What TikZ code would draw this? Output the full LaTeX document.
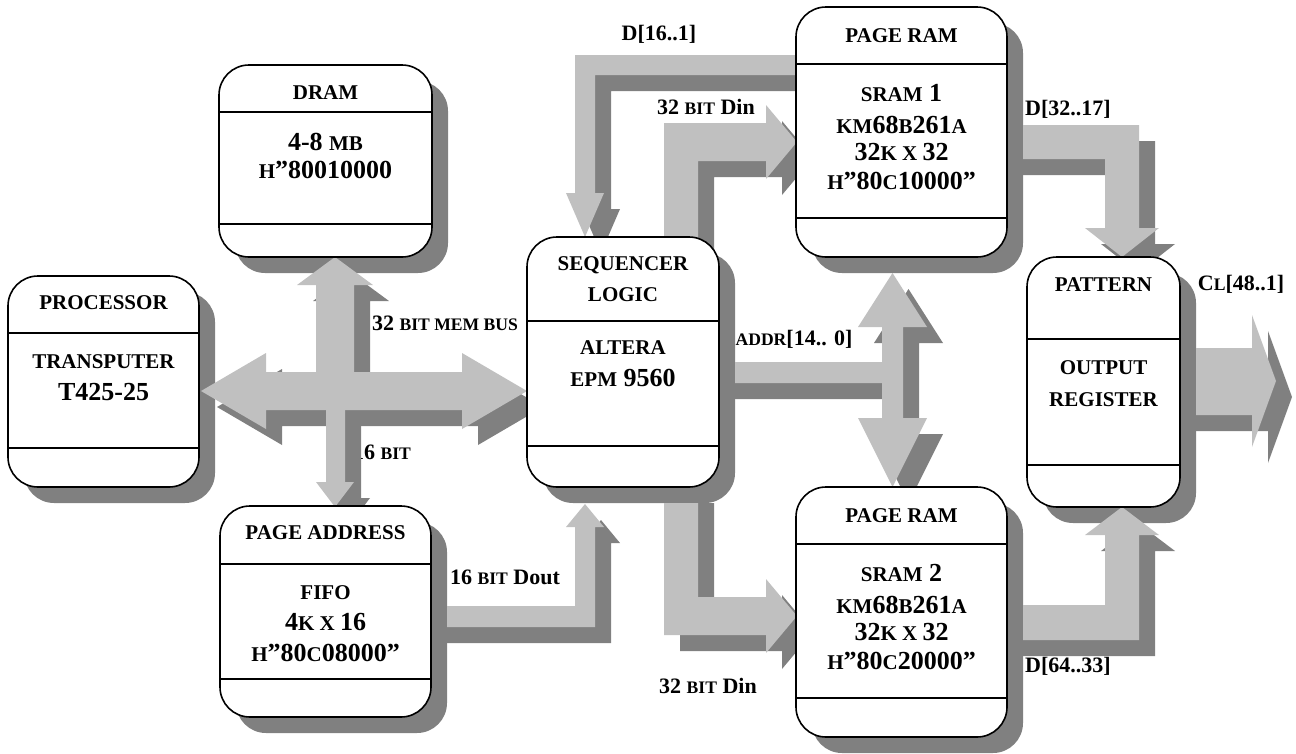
\documentclass[tikz,border=0pt]{standalone}
\usepackage{fontspec}
\setmainfont{Liberation Serif}
\usetikzlibrary{calc}
\pgfdeclarelayer{lab}\pgfdeclarelayer{bshl}\pgfdeclarelayer{arr}
\pgfsetlayers{lab,bshl,arr,main}
\definecolor{lt}{RGB}{192,192,192}
\definecolor{dk}{RGB}{128,128,128}
\newcommand\sk[1]{{\fontsize{21}{21}\selectfont #1}}
\newcommand\lk[1]{{\fontsize{17.6}{17.6}\selectfont #1}}
% block arrows
\newcommand\arrDa[1]{\fill[#1] (800,55) -- (575,55) -- (575,193) -- (566,193) -- (585,237) -- (604,193) -- (595,193) -- (595,75) -- (800,75) -- cycle;}
\newcommand\arrDinTop[1]{\fill[#1] (664,240) -- (664,123) -- (766,123) -- (766,105) -- (797,142) -- (766,179) -- (766,161) -- (698,161) -- (698,240) -- cycle;}
\newcommand\arrDinBot[2]{\fill[#1] (664,#2) -- (664,635) -- (766,635) -- (766,653) -- (797,616) -- (766,579) -- (766,597) -- (698,597) -- (698,#2) -- cycle;}
\newcommand\arrDout[2]{\fill[#1] (#2,606) -- (575,606) -- (575,527) -- (566,527) -- (585,504) -- (604,527) -- (595,527) -- (595,627) -- (#2,627) -- cycle;}
\newcommand\arrAddr[2]{\fill[#1] (#2,362) -- (882,362) -- (882,327) -- (858,327) -- (892.5,273) -- (927,327) -- (903,327) -- (903,418) -- (927,418) -- (892.5,487) -- (858,418) -- (882,418) -- (882,383) -- (#2,383) -- cycle;}
\newcommand\arrDb[2]{\fill[#1] (#2,125) -- (1139,125) -- (1139,228) -- (1159,228) -- (1122,257) -- (1085,228) -- (1105,228) -- (1105,159) -- (#2,159) -- cycle;}
\newcommand\arrDc[2]{\fill[#1] (#2,640) -- (1139,640) -- (1139,535) -- (1159,535) -- (1122,507) -- (1085,535) -- (1105,535) -- (1105,605) -- (#2,605) -- cycle;}
\newcommand\arrOut[2]{\fill[#1] (#2,348) -- (1252,348) -- (1252,315) -- (1276,381) -- (1252,447) -- (1252,415) -- (#2,415) -- cycle;}
\newcommand\arrBus[1]{\fill[#1] (201,391) -- (266,353) -- (266,372) -- (462,372) -- (462,353) -- (527,391) -- (462,429) -- (462,410) -- (266,410) -- (266,429) -- cycle;}
\newcommand\arrUp[1]{\fill[#1] (316,380) -- (316,285) -- (297,285) -- (335,257) -- (373,285) -- (354,285) -- (354,380) -- cycle;}
\newcommand\arrDown[1]{\fill[#1] (326,400) -- (326,482) -- (316,482) -- (335,507) -- (354,482) -- (345,482) -- (345,400) -- cycle;}
\begin{document}
\begin{tikzpicture}[x=1pt,y=-1pt,
  box/.style={draw=black,line width=1.6pt,fill=white,rounded corners=30pt,inner sep=0pt,outer sep=0pt},
  div/.style={draw=black,line width=1.6pt},
  bt/.style={font=\fontsize{26}{26}\selectfont\bfseries,inner sep=0pt},
  lb/.style={font=\fontsize{22}{22}\selectfont\bfseries,inner sep=0pt},
  ash/.style={fill=dk,shift={(16,16)}},
  alt/.style={fill=lt}]
\useasboundingbox (0,0) rectangle (1296,753);

% boxes
\node[box,minimum width=191pt,minimum height=211pt] (proc) at (103.5,381.5) {};
\node[box,minimum width=213pt,minimum height=192pt] (dram) at (325.5,161) {};
\node[box,minimum width=211pt,minimum height=211pt] (paddr) at (325.5,611.5) {};
\node[box,minimum width=192pt,minimum height=250pt] (seq) at (623,362) {};
\node[box,minimum width=211pt,minimum height=250pt] (pr1) at (901.5,132) {};
\node[box,minimum width=211pt,minimum height=250pt] (pr2) at (901.5,612) {};
\node[box,minimum width=153pt,minimum height=250pt] (pat) at (1103.5,382) {};

% dividers
\draw[div] (proc.west |- 0,333) -- (proc.east |- 0,333);
\draw[div] (proc.west |- 0,448) -- (proc.east |- 0,448);
\draw[div] (dram.west |- 0,112) -- (dram.east |- 0,112);
\draw[div] (dram.west |- 0,224) -- (dram.east |- 0,224);
\draw[div] (paddr.west |- 0,564) -- (paddr.east |- 0,564);
\draw[div] (paddr.west |- 0,679) -- (paddr.east |- 0,679);
\draw[div] (seq.west |- 0,321) -- (seq.east |- 0,321);
\draw[div] (seq.west |- 0,446) -- (seq.east |- 0,446);
\draw[div] (pr1.west |- 0,64) -- (pr1.east |- 0,64);
\draw[div] (pr1.west |- 0,218) -- (pr1.east |- 0,218);
\draw[div] (pr2.west |- 0,544) -- (pr2.east |- 0,544);
\draw[div] (pr2.west |- 0,698) -- (pr2.east |- 0,698);
\draw[div] (pat.west |- 0,339) -- (pat.east |- 0,339);
\draw[div] (pat.west |- 0,465) -- (pat.east |- 0,465);

% box texts
\node[bt] (proc1) at (103.5,303) {\sk{PROCESSOR}};
\node[bt] (proc2) at (103.5,362) {\sk{TRANSPUTER}};
\node[bt] (proc3) at (103.5,392) {T425-25};
\node[bt] (dram1) at (325.5,93) {\sk{DRAM}};
\node[bt] (dram2) at (325.5,142) {4-8 \sk{MB}};
\node[bt] (dram3) at (325.5,170) {\sk{H}”80010000};
\node[bt] (pa1) at (325.5,533) {\sk{PAGE ADDRESS}};
\node[bt] (pa2) at (325.5,593) {\sk{FIFO}};
\node[bt] (pa3) at (325.5,622) {4\sk{K X }16};
\node[bt] (pa4) at (325.5,653) {\sk{H}”80\sk{C}08000”};
\node[bt] (seq1) at (623,265) {\sk{SEQUENCER}};
\node[bt] (seq2) at (623,295) {\sk{LOGIC}};
\node[bt] (seq3) at (623,348) {\sk{ALTERA}};
\node[bt] (seq4) at (623,378) {\sk{EPM} 9560};
\node[bt] (pra1) at (901.5,36) {\sk{PAGE RAM}};
\node[bt] (pra2) at (901.5,93) {\sk{SRAM} 1};
\node[bt] (pra3) at (901.5,125) {\sk{KM}68\sk{B}261\sk{A}};
\node[bt] (pra4) at (901.5,152) {32\sk{K X }32};
\node[bt] (pra5) at (901.5,181) {\sk{H}”80\sk{C}10000”};
\node[bt] (prb1) at (901.5,516) {\sk{PAGE RAM}};
\node[bt] (prb2) at (901.5,573) {\sk{SRAM} 2};
\node[bt] (prb3) at (901.5,605) {\sk{KM}68\sk{B}261\sk{A}};
\node[bt] (prb4) at (901.5,632) {32\sk{K X }32};
\node[bt] (prb5) at (901.5,661) {\sk{H}”80\sk{C}20000”};
\node[bt] (pat1) at (1103.5,285) {\sk{PATTERN}};
\node[bt] (pat2) at (1103.5,368) {\sk{OUTPUT}};
\node[bt] (pat3) at (1103.5,400) {\sk{REGISTER}};

% box shadows
\begin{pgfonlayer}{bshl}
\foreach \n in {proc,dram,paddr,seq,pr1,pr2,pat}
  \fill[dk,rounded corners=30pt] ([shift={(16,16)}]\n.north west) rectangle ([shift={(16,16)}]\n.south east);
\end{pgfonlayer}

% labels
\begin{pgfonlayer}{lab}
\node[lb] (l1) at (445,323) {32 \lk{BIT MEM BUS}};
\node[lb] (l2) at (382,452) {16 \lk{BIT}};
\node[lb] (l3) at (505,577) {16 \lk{BIT} Dout};
\node[lb] (l4) at (706,107) {32 \lk{BIT} Din};
\node[lb] (l5) at (708,686) {32 \lk{BIT} Din};
\node[lb] (l6) at (659,34) {D[16..1]};
\node[lb] (l7) at (794,339) {\lk{ADDR}[14.. 0]};
\node[lb] (l8) at (1068,109) {D[32..17]};
\node[lb] (l9) at (1068,666) {D[64..33]};
\node[lb] (l10) at (1241,284) {C\lk{L}[48..1]};
\end{pgfonlayer}

% block arrows: shadows then light
\begin{pgfonlayer}{arr}
\arrDa{ash}
\arrDinTop{ash}
\arrDinBot{ash}{487}
\arrDout{ash}{431}
\arrAddr{ash}{719}
\arrDb{ash}{1007}
\arrDc{ash}{1007}
\arrOut{ash}{1180}
\arrUp{ash}
\arrDown{ash}
\arrBus{ash}
\arrDa{alt}
\arrDinTop{alt}
\arrDinBot{alt}{503}
\arrDout{alt}{447}
\arrAddr{alt}{735}
\arrDb{alt}{1023}
\arrDc{alt}{1023}
\arrOut{alt}{1196}
\arrUp{alt}
\arrBus{alt}
\arrDown{alt}
\end{pgfonlayer}
\end{tikzpicture}
\end{document}
